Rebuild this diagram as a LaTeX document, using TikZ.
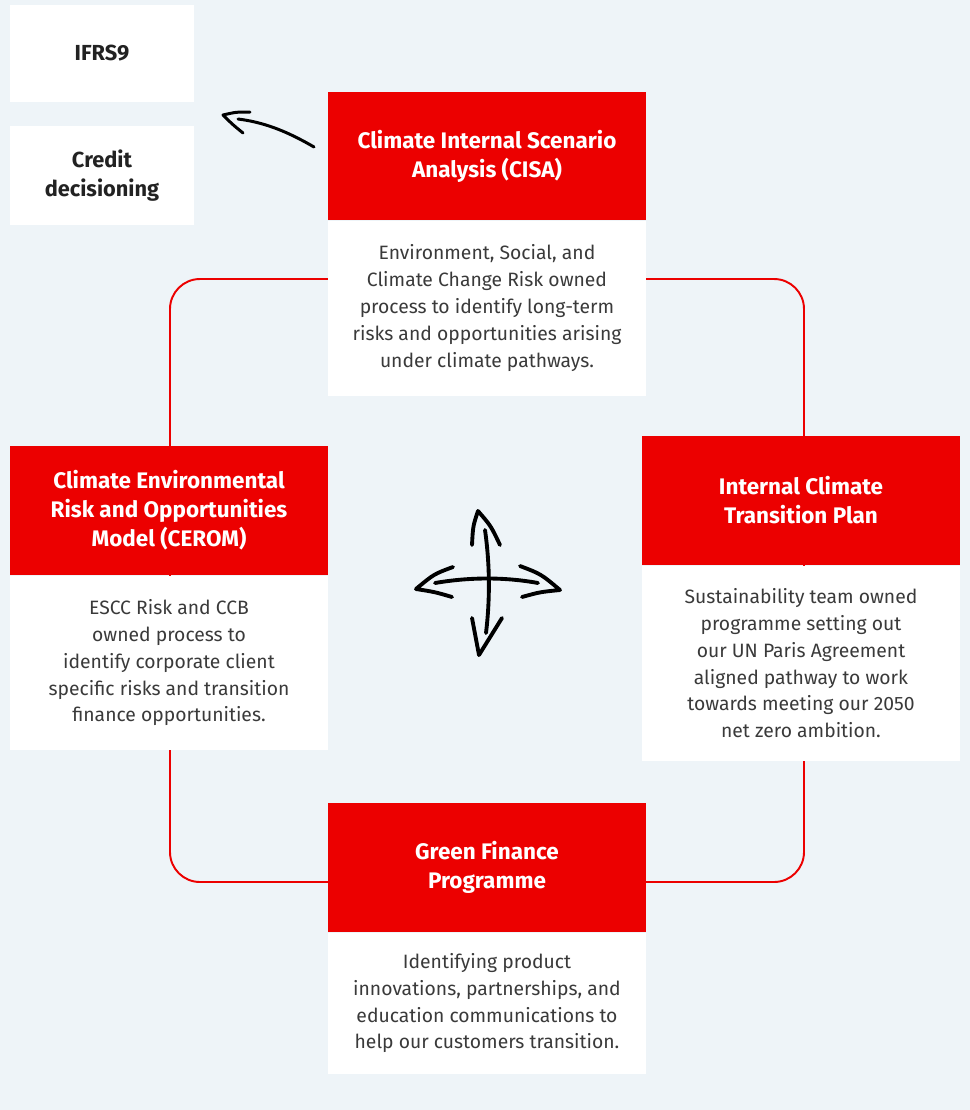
\documentclass[tikz,border=0pt]{standalone}
\usepackage{fontspec}
\setmainfont{Fira Sans}
\usetikzlibrary{positioning}
\definecolor{bgblue}{HTML}{EEF4F8}
\definecolor{sred}{HTML}{EC0000}
\definecolor{bodygray}{HTML}{3A3A3A}
\definecolor{darktext}{HTML}{222222}
\tikzset{
  redbox/.style={fill=sred, text=white, minimum width=6.36cm, minimum height=2.56cm, align=center, inner sep=0pt, font=\bfseries\fontsize{12.8}{16.5}\selectfont},
  whitebox/.style={fill=white, text=bodygray, minimum width=6.36cm, align=center, inner sep=0pt, font=\fontsize{11}{15.3}\selectfont},
  sidebox/.style={fill=white, text=darktext, minimum width=3.68cm, align=center, inner sep=0pt, font=\bfseries\fontsize{12.4}{16.5}\selectfont},
  loopline/.style={draw=sred, line width=1.1pt, rounded corners=0.6cm},
  sketch/.style={draw=black, line width=2.2pt, line cap=round, line join=round}
}
\begin{document}
\begin{tikzpicture}[x=0.02cm,y=-0.02cm]
    \fill[bgblue] (0,0) rectangle (970,1110);
    \useasboundingbox (0,0) rectangle (970,1110);

    % the loop behind the four stages
    \draw[loopline] (170,279) rectangle (804,882);

    \node[sidebox, minimum height=1.94cm] (ifrs) at (102,53.5) {IFRS9};
    \node[sidebox, minimum height=1.98cm] (credit) at (102,175.5) {Credit\\decisioning};

    \node[redbox] (cisa) at (487,156) {Climate Internal Scenario\\Analysis (CISA)};
    \node[whitebox, minimum height=3.5cm, below=0pt of cisa] (cisatext) {Environment, Social, and\\Climate Change Risk owned\\process to identify long-term\\risks and opportunities arising\\under climate pathways.};

    \node[redbox, minimum height=2.58cm] (ictp) at (801,500.5) {Internal Climate\\Transition Plan};
    \node[whitebox, minimum height=3.9cm, below=0pt of ictp] (ictptext) {Sustainability team owned\\programme setting out\\our UN Paris Agreement\\aligned pathway to work\\towards meeting our 2050\\net zero ambition.};

    \node[redbox, minimum height=2.58cm] (cerom) at (169,510.5) {Climate Environmental\\Risk and Opportunities\\Model (CEROM)};
    \node[whitebox, minimum height=3.48cm, below=0pt of cerom] (ceromtext) {ESCC Risk and CCB\\owned process to\\identify corporate client\\specific risks and transition\\finance opportunities.};

    \node[redbox, minimum height=2.58cm] (gfp) at (487,867.5) {Green Finance\\Programme};
    \node[whitebox, minimum height=2.82cm, below=0pt of gfp] (gfptext) {Identifying product\\innovations, partnerships, and\\education communications to\\help our customers transition.};

    % sketched arrow towards the side boxes
    \coordinate (fromcisa) at (314,147);
    \coordinate (tosides) at (238,119);
    \draw[sketch, line width=1.7pt] (fromcisa) .. controls (285,130) and (262,122) .. (tosides);
    \draw[sketch, line width=1.7pt] (250,112) .. controls (236,112) .. (223,115) .. controls (232,124) .. (243,133);

    % sketched cross in the middle
    \draw[sketch] (435,583) .. controls (470,577) and (505,577) .. (538,583);
    \draw[sketch] (453,567) .. controls (434,574) .. (416,589) .. controls (435,592) .. (452,597);
    \draw[sketch] (520,566) .. controls (541,574) .. (560,590) .. controls (540,592) .. (522,597);
    \draw[sketch] (485,530) .. controls (490,565) and (490,600) .. (486,633);
    \draw[sketch] (472,545) .. controls (473,526) .. (478,511) .. controls (491,526) .. (500,545);
    \draw[sketch] (472,618) .. controls (476,636) .. (479,655) .. controls (491,636) .. (502,618);
\end{tikzpicture}
\end{document}
